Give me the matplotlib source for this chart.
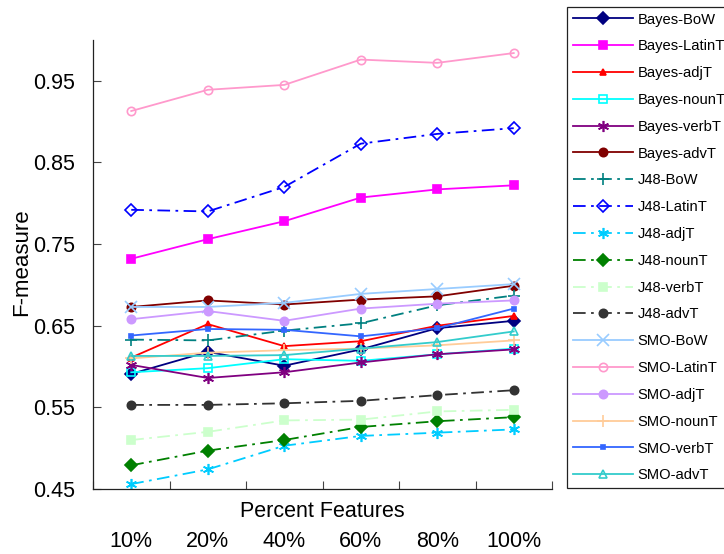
import numpy as np
import matplotlib
matplotlib.use("Agg")
import matplotlib.pyplot as plt

plt.rcParams['font.family'] = ['Liberation Sans', 'DejaVu Sans']

categories = ["10%", "20%", "40%", "60%", "80%", "100%"]

bayes_bow    = [0.591, 0.618, 0.601, 0.621, 0.647, 0.656]
bayes_latin  = [0.732, 0.756, 0.778, 0.807, 0.817, 0.822]
bayes_adj    = [0.611, 0.652, 0.625, 0.631, 0.650, 0.662]
bayes_noun   = [0.593, 0.598, 0.609, 0.607, 0.615, 0.622]
bayes_verb   = [0.602, 0.586, 0.593, 0.605, 0.615, 0.621]
bayes_adv    = [0.673, 0.681, 0.676, 0.682, 0.686, 0.699]
j48_bow      = [0.633, 0.632, 0.644, 0.653, 0.675, 0.687]
j48_latin    = [0.792, 0.790, 0.820, 0.873, 0.885, 0.892]
j48_adj      = [0.456, 0.474, 0.503, 0.515, 0.519, 0.523]
j48_noun     = [0.479, 0.497, 0.510, 0.526, 0.533, 0.538]
j48_verb     = [0.510, 0.520, 0.534, 0.535, 0.545, 0.547]
j48_adv      = [0.553, 0.553, 0.555, 0.558, 0.565, 0.571]
smo_bow      = [0.673, 0.673, 0.678, 0.689, 0.695, 0.701]
smo_latin    = [0.913, 0.939, 0.945, 0.976, 0.972, 0.984]
smo_adj      = [0.658, 0.668, 0.656, 0.671, 0.677, 0.681]
smo_noun     = [0.610, 0.617, 0.620, 0.622, 0.626, 0.632]
smo_verb     = [0.638, 0.646, 0.645, 0.637, 0.647, 0.671]
smo_adv      = [0.613, 0.613, 0.614, 0.622, 0.630, 0.643]

y_ticks = [0.45, 0.55, 0.65, 0.75, 0.85, 0.95]
y_ticklabels = ["0.45", "0.55", "0.65", "0.75", "0.85", "0.95"]

AST = (6, 2, 0)
DD = (0, (7, 3, 1.5, 3))
series = [
    ("Bayes-BoW",    bayes_bow,   "#000080", "D", True,  "-"),
    ("Bayes-LatinT", bayes_latin, "#FF00FF", "s", True,  "-"),
    ("Bayes-adjT",   bayes_adj,   "#FF0000", "^", True,  "-"),
    ("Bayes-nounT",  bayes_noun,  "#00FFFF", "s", False, "-"),
    ("Bayes-verbT",  bayes_verb,  "#800080", AST, True,  "-"),
    ("Bayes-advT",   bayes_adv,   "#800000", "o", True,  "-"),
    ("J48-BoW",      j48_bow,     "#008080", "+", True,  DD),
    ("J48-LatinT",   j48_latin,   "#0000FF", "D", False, DD),
    ("J48-adjT",     j48_adj,     "#00CCFF", AST, True,  DD),
    ("J48-nounT",    j48_noun,    "#008000", "D", True,  DD),
    ("J48-verbT",    j48_verb,    "#CCFFCC", "s", True,  DD),
    ("J48-advT",     j48_adv,     "#333333", "o", True,  DD),
    ("SMO-BoW",      smo_bow,     "#99CCFF", "x", True,  "-"),
    ("SMO-LatinT",   smo_latin,   "#FF99CC", "o", False, "-"),
    ("SMO-adjT",     smo_adj,     "#CC99FF", "o", True,  "-"),
    ("SMO-nounT",    smo_noun,    "#FFCC99", "+", True,  "-"),
    ("SMO-verbT",    smo_verb,    "#3366FF", "s", True,  "-"),
    ("SMO-advT",     smo_adv,     "#33CCCC", "^", False, "-"),
]

fig = plt.figure(figsize=(7.24, 5.54), dpi=100)
ax = fig.add_axes([93/724, 1-489/554, (552-93)/724, (489-40)/554])

x = np.arange(1, len(categories) + 1)
for name, vals, col, mk, filled, ls in series:
    ms = 6
    if name == "SMO-verbT":
        ms = 3.5
    if name == "Bayes-adjT":
        ms = 5
    if mk in ("+", "x") or mk == AST:
        ms = 8
    ax.plot(x, vals, linestyle=ls, color=col, marker=mk, markersize=ms,
            markerfacecolor=(col if filled else "none"), markeredgecolor=col,
            markeredgewidth=1.2, linewidth=1.3, label=name)

ax.set_xlim(0.5, 6.5)
ax.set_ylim(0.45, 1.0)
ax.spines['top'].set_visible(False)
ax.spines['right'].set_visible(False)
for s in ("left", "bottom"):
    ax.spines[s].set_linewidth(0.9)
    ax.spines[s].set_color("#222222")

ax.set_yticks(y_ticks)
ax.set_yticklabels(y_ticklabels)
ax.tick_params(axis='y', direction='in', length=6, width=0.8, pad=13,
               labelsize=15.5, color="#444444")

ax.set_xticks(np.arange(0.5, 7.0, 1.0))
ax.set_xticklabels([])
ax.tick_params(axis='x', which='major', direction='in', length=6, width=0.8, color="#444444")
ax.set_xticks(x, categories, minor=True)
ax.tick_params(axis='x', which='minor', length=0, pad=30, labelsize=15.5)

ax.set_xlabel("Percent Features", fontsize=15.5)
ax.xaxis.set_label_coords(0.5, (489-501)/449)
ax.xaxis.label.set_va('top')
ax.set_ylabel("F-measure", fontsize=16)
ax.yaxis.set_label_coords((32-93)/459, (489-262)/449)

leg = fig.legend(loc='upper left', bbox_to_anchor=(567/724, 1-7/554),
                 bbox_transform=fig.transFigure, fontsize=10.6,
                 frameon=True, fancybox=False, framealpha=1, edgecolor='#222222',
                 borderaxespad=0, borderpad=0.38, labelspacing=0.87,
                 handlelength=4.1, handletextpad=0.3)
leg.get_frame().set_linewidth(0.9)

fig.savefig("out.png", dpi=100)
